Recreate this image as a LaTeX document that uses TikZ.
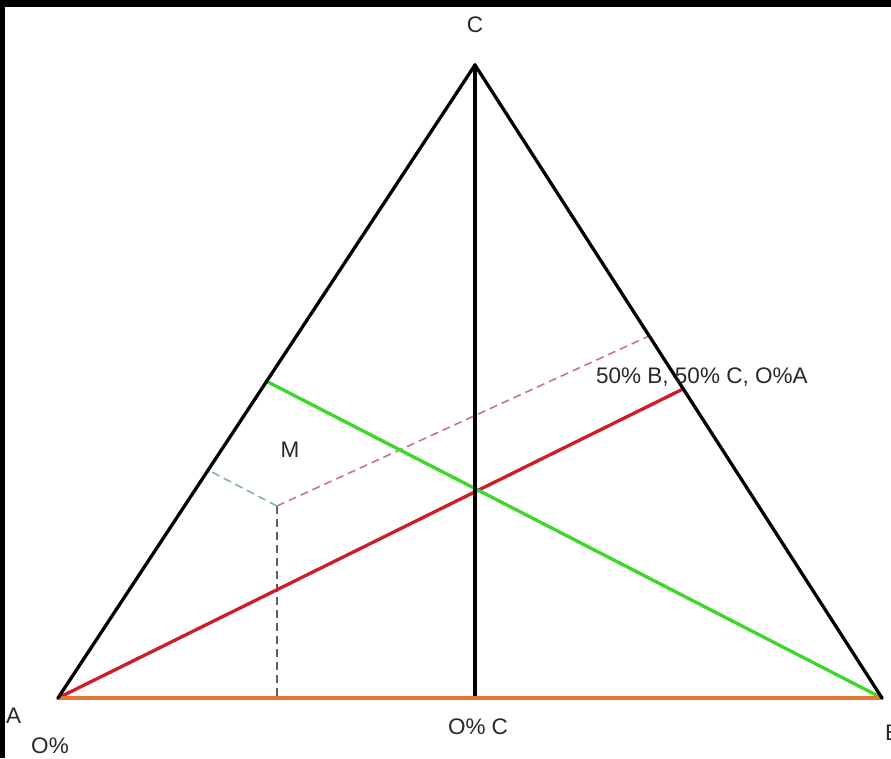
\documentclass[tikz,border=0pt]{standalone}
\usepackage{fontspec}
\setmainfont{Liberation Sans}
\definecolor{redl}{RGB}{205,30,40}
\definecolor{greenl}{RGB}{60,215,40}
\definecolor{orangel}{RGB}{225,120,50}
\definecolor{greyd}{RGB}{95,95,95}
\definecolor{greend}{RGB}{130,185,135}
\definecolor{pinkd}{RGB}{195,120,135}
\definecolor{txt}{RGB}{40,40,40}
\begin{document}
\begin{tikzpicture}[x=1pt,y=-1pt,
  edge/.style={line width=3.3pt,line cap=round,line join=round},
  dashline/.style={line width=1.6pt,dash pattern=on 8pt off 5pt},
  lbl/.style={font=\fontsize{22.5}{24}\selectfont,text=txt,inner sep=0pt}]
\useasboundingbox (0,0) rectangle (891,758);
\clip (0,0) rectangle (891,758);
\fill[black] (0,0) rectangle (891,758);
\fill[white] (5,7) rectangle (891,758);
\coordinate (A) at (58,698);
\coordinate (B) at (882,698);
\coordinate (C) at (475,65);
\coordinate (Cb) at (475,698);
\coordinate (Mbc) at (683,389);
\coordinate (Mac) at (266,381);
\coordinate (P) at (277,506);
\coordinate (Pb) at (277,698);
\coordinate (Pac) at (208,470);
\coordinate (Pbc) at (649,336);
% dashed construction lines
\draw[dashline,greyd] (P) -- (Pb);
\draw[dashline,greend] (P) -- (Pac);
\draw[dashline,pinkd] (P) -- (Pbc);
% medians
\draw[edge,redl] (A) -- (Mbc);
\draw[edge,greenl] (B) -- (Mac);
\draw[edge,black] (C) -- (Cb);
% base
\draw[edge,orangel] (A) -- (B);
% sides
\draw[edge,black] (A) -- (C) -- (B);
% labels
\node[lbl] (lC) at (475,25) {C};
\node[lbl] (lM) at (290,450) {M};
\node[lbl,anchor=west] (lBC) at (596,377) {50\% B, 50\% C, O\%A};
\node[lbl,anchor=west] (lA) at (6,716) {A};
\node[lbl] (lO) at (50,746) {O\%};
\node[lbl] (lOC) at (478,727) {O\% C};
\node[lbl,anchor=west] (lB) at (885,733) {B};
\end{tikzpicture}
\end{document}
